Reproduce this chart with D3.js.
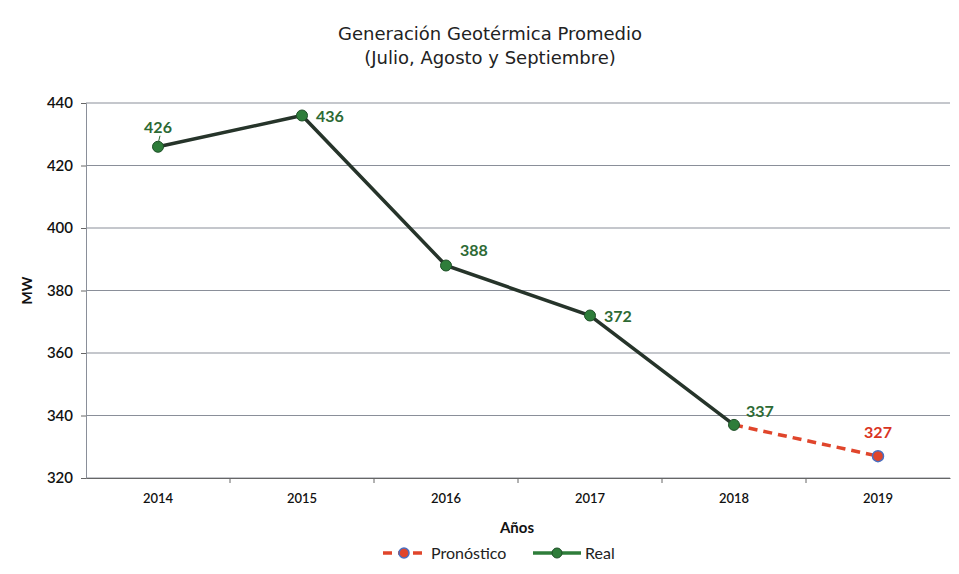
<!DOCTYPE html>
<html>
<head>
<meta charset="utf-8">
<script src="https://cdn.jsdelivr.net/npm/d3@7"></script>
<style>
  body { margin: 0; background: #fff; }
  text { font-family: Lato, "Noto Sans", sans-serif; }
</style>
</head>
<body>
<div id="chart"></div>
<script>
// data
var years = ["2014", "2015", "2016", "2017", "2018", "2019"]
var realYears = ["2014", "2015", "2016", "2017", "2018"]
var realValues = [426, 436, 388, 372, 337]
var forecastYears = ["2018", "2019"]
var forecastValues = [337, 327]
var yTicks = [320, 340, 360, 380, 400, 420, 440]

var width = 959, height = 574
var margin = {top: 103, right: 9, bottom: 96, left: 86}

var svg = d3.select("#chart").append("svg")
    .attr("width", width)
    .attr("height", height)

var x = d3.scaleBand()
    .domain(years)
    .range([margin.left, width - margin.right])

var y = d3.scaleLinear()
    .domain([320, 440])
    .range([height - margin.bottom, margin.top])

// grid lines
svg.append("g")
    .selectAll("line")
    .data(yTicks)
    .enter().append("line")
        .attr("x1", margin.left)
        .attr("x2", width - margin.right)
        .attr("y1", function(d) { return y(d) })
        .attr("y2", function(d) { return y(d) })
        .attr("stroke", "#8a8f99")
        .attr("stroke-width", 1)

// y axis
var yAxis = svg.append("g")
    .attr("transform", "translate(" + margin.left + ",0)")
    .call(d3.axisLeft(y).tickValues(yTicks).tickSize(5).tickPadding(8))
yAxis.select(".domain").attr("stroke", "#8a8f99")
yAxis.selectAll(".tick line").attr("stroke", "#666")
yAxis.selectAll("text")
    .style("font-size", "15px")
    .style("font-weight", "600")
    .attr("fill", "#111")

// x axis
var xAxis = svg.append("g")
    .attr("transform", "translate(0," + (height - margin.bottom) + ")")
    .call(d3.axisBottom(x).tickSize(0).tickPadding(16))
xAxis.select(".domain").attr("stroke", "#666")
xAxis.selectAll("text")
    .style("font-size", "13px")
    .style("font-weight", "600")
    .attr("fill", "#111")
// tick marks between categories
xAxis.selectAll(".sep")
    .data(years.slice(1))
    .enter().append("line")
        .attr("class", "sep")
        .attr("x1", function(d) { return x(d) })
        .attr("x2", function(d) { return x(d) })
        .attr("y1", 0)
        .attr("y2", 5)
        .attr("stroke", "#666")

var cx = function(d) { return x(d) + x.bandwidth() / 2 }

// forecast line (dashed red)
var fc = forecastYears.map(function(d, i) { return {year: d, value: forecastValues[i]} })
svg.append("path")
    .datum(fc)
    .attr("fill", "none")
    .attr("stroke", "#e0452b")
    .attr("stroke-width", 3.5)
    .attr("stroke-dasharray", "9,6")
    .attr("d", d3.line().x(function(d) { return cx(d.year) }).y(function(d) { return y(d.value) }))

// real line
var real = realYears.map(function(d, i) { return {year: d, value: realValues[i]} })
svg.append("path")
    .datum(real)
    .attr("fill", "none")
    .attr("stroke", "#26342a")
    .attr("stroke-width", 3.5)
    .attr("d", d3.line().x(function(d) { return cx(d.year) }).y(function(d) { return y(d.value) }))

// forecast marker (last point only)
svg.append("circle")
    .attr("cx", cx(fc[1].year))
    .attr("cy", y(fc[1].value))
    .attr("r", 5.5)
    .attr("fill", "#e0452b")
    .attr("stroke", "#4a6fc0")
    .attr("stroke-width", 1.5)

svg.selectAll(".realDot")
    .data(real)
    .enter().append("circle")
        .attr("class", "realDot")
        .attr("cx", function(d) { return cx(d.year) })
        .attr("cy", function(d) { return y(d.value) })
        .attr("r", 5.5)
        .attr("fill", "#2e7d3a")
        .attr("stroke", "#1f4f28")
        .attr("stroke-width", 1)

// data labels
var labelOffsets = {"2014": [0, -14, "middle"], "2015": [14, 6, "start"], "2016": [14, -10, "start"],
                    "2017": [14, 6, "start"], "2018": [12, -8, "start"]}
svg.selectAll(".realLabel")
    .data(real)
    .enter().append("text")
        .attr("class", "realLabel")
        .attr("x", function(d) { return cx(d.year) + labelOffsets[d.year][0] })
        .attr("y", function(d) { return y(d.value) + labelOffsets[d.year][1] })
        .attr("text-anchor", function(d) { return labelOffsets[d.year][2] })
        .attr("fill", "#2d6a34")
        .style("font-size", "16px")
        .style("font-weight", "bold")
        .text(function(d) { return d.value })

// leader line for 2014 label
svg.append("line")
    .attr("x1", cx("2014") + 2).attr("x2", cx("2014"))
    .attr("y1", y(426) - 11).attr("y2", y(426) - 3)
    .attr("stroke", "#2d6a34").attr("stroke-width", 1)

svg.append("text")
    .attr("x", cx("2019"))
    .attr("y", y(327) - 18)
    .attr("text-anchor", "middle")
    .attr("fill", "#d9341f")
    .style("font-size", "16px")
    .style("font-weight", "bold")
    .text(fc[1].value)

// title
svg.append("text")
    .attr("x", 490).attr("y", 40)
    .attr("text-anchor", "middle")
    .attr("fill", "#222")
    .style("font-family", "'DejaVu Sans', sans-serif")
    .style("font-size", "18px")
    .text("Generación Geotérmica Promedio")
svg.append("text")
    .attr("x", 490).attr("y", 64)
    .attr("text-anchor", "middle")
    .attr("fill", "#222")
    .style("font-family", "'DejaVu Sans', sans-serif")
    .style("font-size", "18px")
    .text("(Julio, Agosto y Septiembre)")

// axis titles
svg.append("text")
    .attr("transform", "translate(32," + ((margin.top + height - margin.bottom) / 2) + ") rotate(-90)")
    .attr("text-anchor", "middle")
    .attr("fill", "#111")
    .style("font-size", "14px")
    .style("font-weight", "bold")
    .text("MW")
svg.append("text")
    .attr("x", 517).attr("y", 533)
    .attr("text-anchor", "middle")
    .attr("fill", "#111")
    .style("font-size", "15px")
    .style("font-weight", "bold")
    .text("Años")

// legend
var legend = svg.append("g").attr("transform", "translate(383,553)")
legend.append("line")
    .attr("x1", 0).attr("x2", 42).attr("y1", 0).attr("y2", 0)
    .attr("stroke", "#e0452b").attr("stroke-width", 3.5).attr("stroke-dasharray", "9,6")
legend.append("circle")
    .attr("cx", 21).attr("cy", 0).attr("r", 5)
    .attr("fill", "#e0452b").attr("stroke", "#4a6fc0").attr("stroke-width", 1.5)
legend.append("text")
    .attr("x", 48).attr("y", 6)
    .attr("fill", "#222")
    .style("font-size", "16px")
    .text("Pronóstico")
legend.append("line")
    .attr("x1", 150).attr("x2", 198).attr("y1", 0).attr("y2", 0)
    .attr("stroke", "#2e7d3a").attr("stroke-width", 3.5)
legend.append("circle")
    .attr("cx", 174).attr("cy", 0).attr("r", 5)
    .attr("fill", "#2e7d3a").attr("stroke", "#1f4f28")
legend.append("text")
    .attr("x", 202).attr("y", 6)
    .attr("fill", "#222")
    .style("font-size", "16px")
    .text("Real")
</script>
</body>
</html>
